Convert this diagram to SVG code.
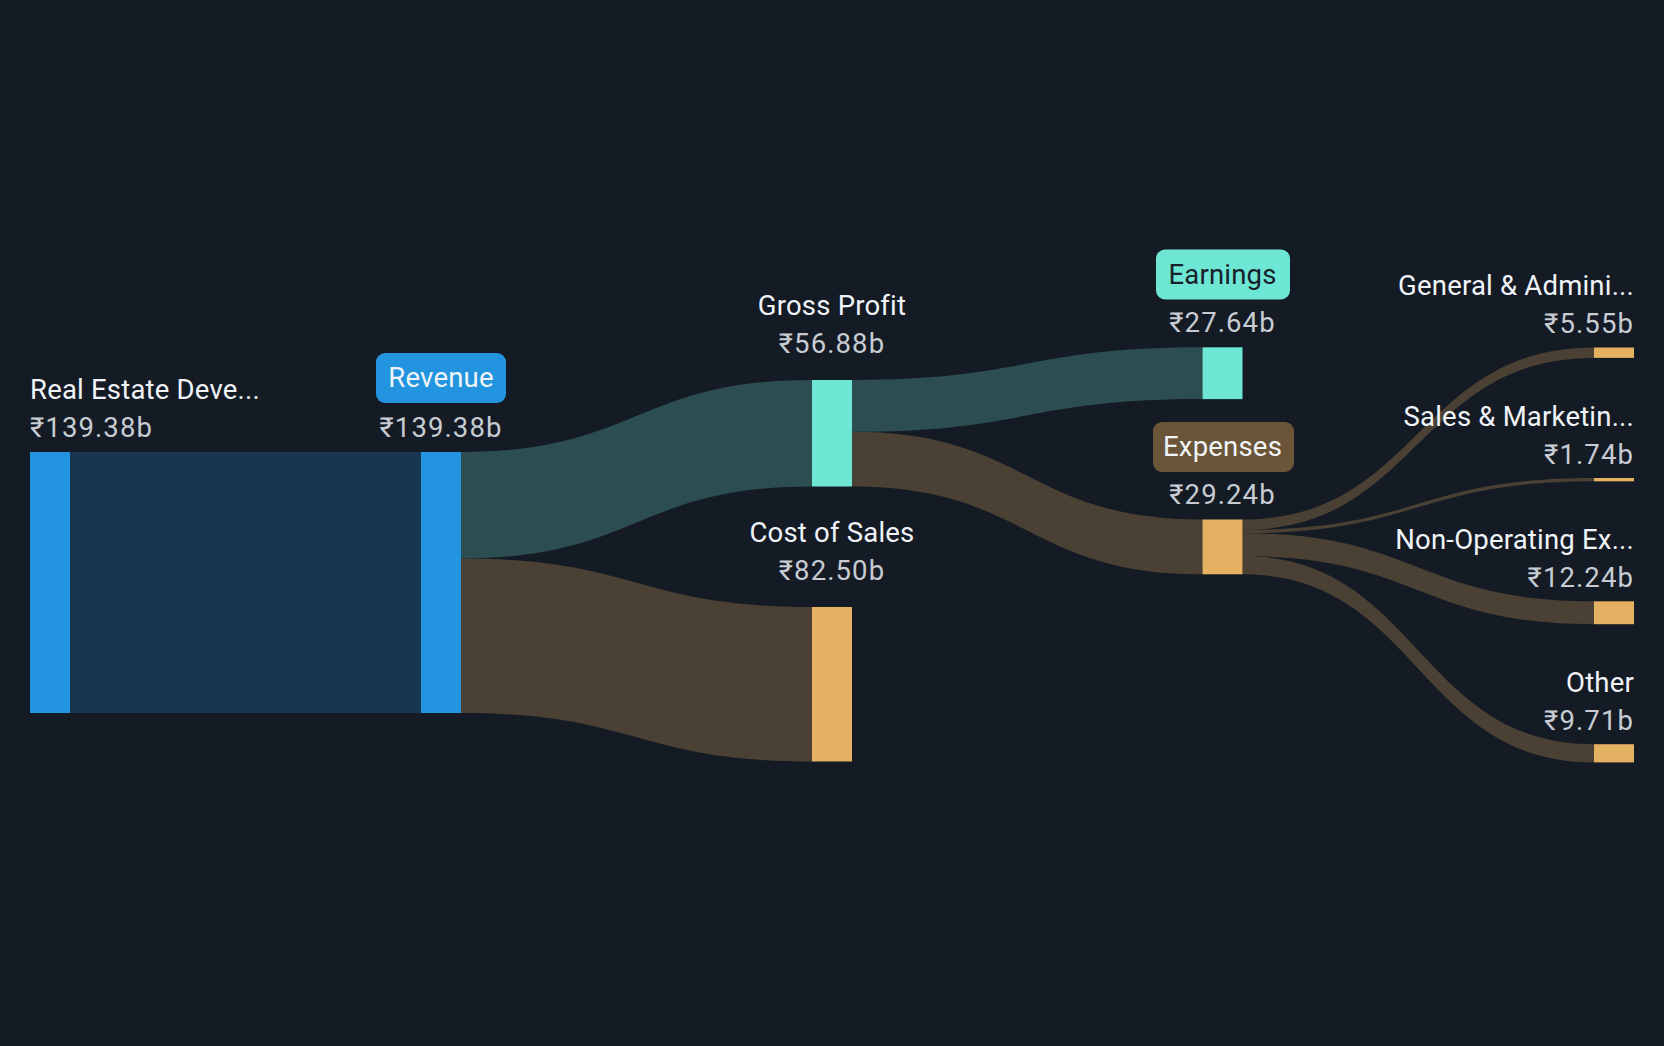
<svg xmlns="http://www.w3.org/2000/svg" width="1664" height="1046" viewBox="0 0 1664 1046">
<style>
.bg{fill:#151b25}
.lb{fill:#183650}
.lt{fill:#2c4e50}
.lo{fill:#4a4033}
.nb{fill:#2394df}
.nt{fill:#6ee6d4}
.no{fill:#e4b062}
text{font-family:Roboto,"Liberation Sans",sans-serif;font-size:27.5px;letter-spacing:0.2px}
.nm{fill:#f0f4f8}
.vl{fill:#c7ccd3;letter-spacing:1.1px}
.mid{text-anchor:middle}
.end{text-anchor:end}
</style>
<rect class="bg" x="0" y="0" width="1664" height="1046"/>
<g id="connectors">
<path class="lb" d="M70,452 L421,452 L421,713 L70,713 Z"/>
<path class="lt" d="M461,452 C636.5,452 636.5,380 812,380 L812,486.5 C636.5,486.5 636.5,558.5 461,558.5 Z"/>
<path class="lo" d="M461,558.5 C636.5,558.5 636.5,607 812,607 L812,761.5 C636.5,761.5 636.5,713 461,713 Z"/>
<path class="lt" d="M852,380 C1027,380 1027,347.3 1202.5,347.3 L1202.5,399.1 C1027,399.1 1027,431.8 852,431.8 Z"/>
<path class="lo" d="M852,431.8 C1027,431.8 1027,519.5 1202.5,519.5 L1202.5,574.3 C1027,574.3 1027,486.5 852,486.5 Z"/>
<path class="lo" d="M1242.5,519.5 C1418,519.5 1418,347.5 1594,347.5 L1594,357.9 C1418,357.9 1418,529.9 1242.5,529.9 Z"/>
<path class="lo" d="M1242.5,529.9 C1418,529.9 1418,478 1594,478 L1594,481.3 C1418,481.3 1418,533.2 1242.5,533.2 Z"/>
<path class="lo" d="M1242.5,533.2 C1418,533.2 1418,601.3 1594,601.3 L1594,624.2 C1418,624.2 1418,556.1 1242.5,556.1 Z"/>
<path class="lo" d="M1242.5,556.1 C1418,556.1 1418,744.2 1594,744.2 L1594,762.4 C1418,762.4 1418,574.3 1242.5,574.3 Z"/>
</g>
<g id="node-realestate">
<rect class="nb" x="30" y="452" width="40" height="261"/>
<text class="nm" x="30" y="399">Real Estate Deve...</text>
<text class="vl" x="30" y="437">₹139.38b</text>
</g>
<g id="node-revenue">
<rect class="nb" x="421" y="452" width="40" height="261"/>
<rect class="nb" x="376" y="353" width="130" height="50" rx="9"/>
<text class="mid" x="441" y="387" fill="#f0f4f8">Revenue</text>
<text class="vl mid" x="441" y="437">₹139.38b</text>
</g>
<g id="node-grossprofit">
<rect class="nt" x="812" y="380" width="40" height="106.5"/>
<text class="nm mid" x="832" y="315">Gross Profit</text>
<text class="vl mid" x="832" y="353">₹56.88b</text>
</g>
<g id="node-costofsales">
<rect class="no" x="812" y="607" width="40" height="154.5"/>
<text class="nm mid" x="832" y="542">Cost of Sales</text>
<text class="vl mid" x="832" y="580">₹82.50b</text>
</g>
<g id="node-earnings">
<rect class="nt" x="1202.5" y="347.3" width="40" height="51.8"/>
<rect class="nt" x="1156" y="249.5" width="134" height="50" rx="9"/>
<text class="mid" x="1222.5" y="284" fill="#17212b">Earnings</text>
<text class="vl mid" x="1222.5" y="332">₹27.64b</text>
</g>
<g id="node-expenses">
<rect class="no" x="1202.5" y="519.5" width="40" height="54.8"/>
<rect x="1153" y="422" width="141" height="50" rx="9" fill="#6b5539"/>
<text class="mid" x="1222.5" y="456" fill="#f0f4f8">Expenses</text>
<text class="vl mid" x="1222.5" y="504">₹29.24b</text>
</g>
<g id="node-ga">
<rect class="no" x="1594" y="347.5" width="40" height="10.4"/>
<text class="nm end" x="1634" y="295">General &amp; Admini...</text>
<text class="vl end" x="1634" y="333">₹5.55b</text>
</g>
<g id="node-sm">
<rect class="no" x="1594" y="478" width="40" height="3.3"/>
<text class="nm end" x="1634" y="426">Sales &amp; Marketin...</text>
<text class="vl end" x="1634" y="463.5">₹1.74b</text>
</g>
<g id="node-nonop">
<rect class="no" x="1594" y="601.3" width="40" height="22.9"/>
<text class="nm end" x="1634" y="548.5">Non-Operating Ex...</text>
<text class="vl end" x="1634" y="586.5">₹12.24b</text>
</g>
<g id="node-other">
<rect class="no" x="1594" y="744.2" width="40" height="18.2"/>
<text class="nm end" x="1634" y="691.5">Other</text>
<text class="vl end" x="1634" y="729.5">₹9.71b</text>
</g>
</svg>
